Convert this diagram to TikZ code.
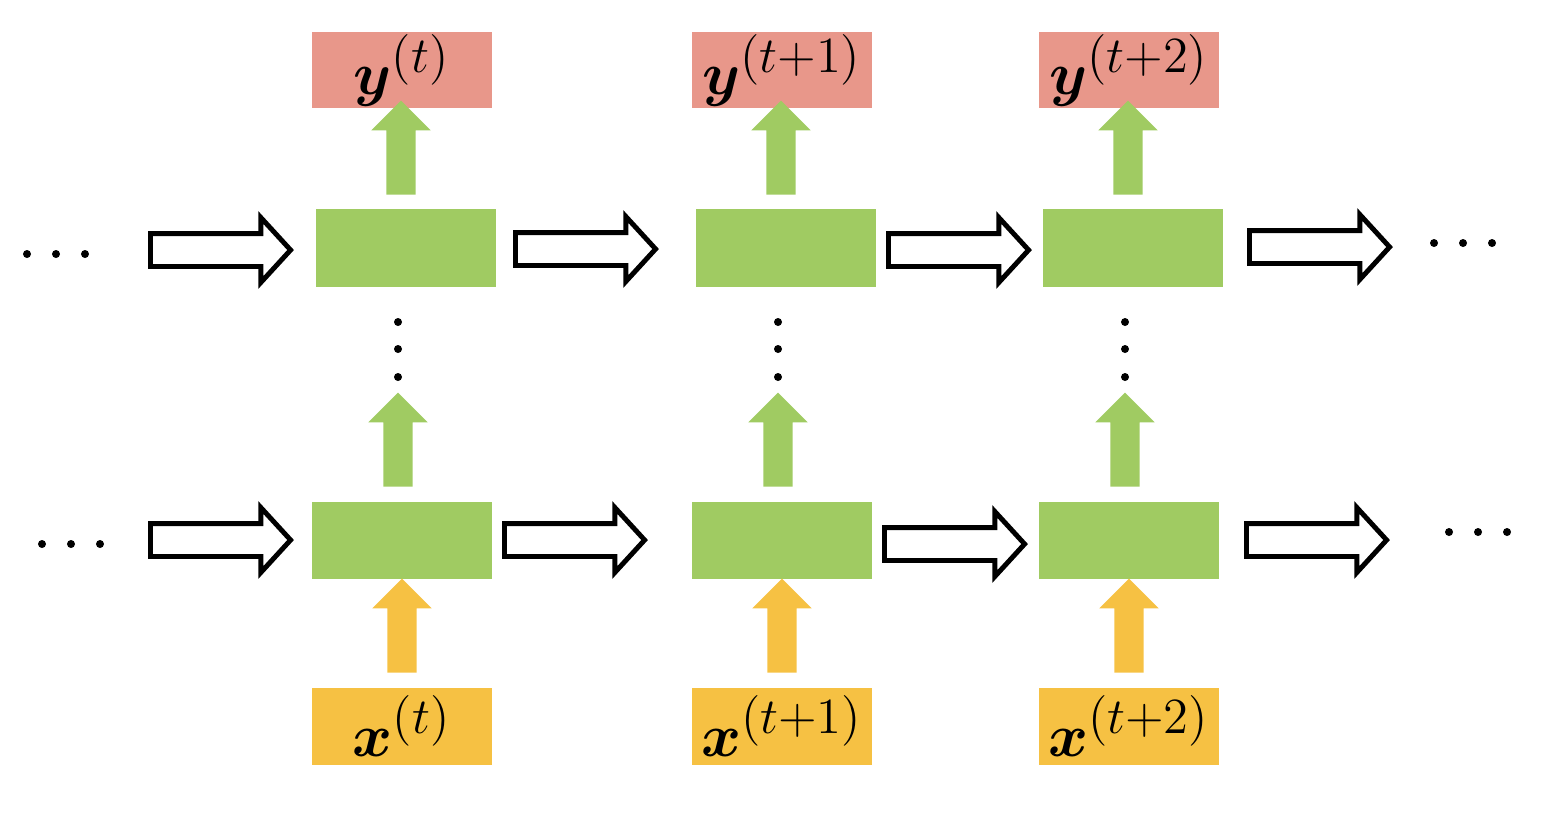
\documentclass[tikz,border=0pt]{standalone}
\usepackage{amsmath,bm}
\usepackage{tikz}
\usetikzlibrary{shapes.arrows}
\definecolor{cellgreen}{HTML}{A0CB62}
\definecolor{outred}{HTML}{E8978A}
\definecolor{inorange}{HTML}{F6C143}
\tikzset{
  cell/.style={fill=cellgreen, minimum width=1.8cm, minimum height=0.77cm, inner sep=0},
  outbox/.style={fill=outred, minimum width=1.8cm, minimum height=0.76cm, inner sep=0, font=\fontsize{19}{24}\selectfont},
  inbox/.style={fill=inorange, minimum width=1.8cm, minimum height=0.77cm, inner sep=0, font=\fontsize{19}{24}\selectfont},
  flow/.style={single arrow, draw=black, line width=1.4pt, fill=white, minimum height=1.4cm, minimum width=0.62cm,
    single arrow head extend=0.16cm, single arrow tip angle=95, single arrow head indent=0, inner sep=0.14cm},
  up/.style={single arrow, rotate=90, draw=none, minimum height=0.94cm, minimum width=0.58cm,
    single arrow head extend=0.15cm, single arrow tip angle=90, single arrow head indent=0, inner sep=0.14cm},
  dot/.style={circle, fill=black, inner sep=0, minimum size=0.08cm}
}
\begin{document}
\begin{tikzpicture}[x=0.01cm,y=-0.01cm]
\useasboundingbox (0,0) rectangle (1552,820);
% cells
\node (c1) [cell] at (406,248) {};
\node (c2) [cell] at (786,248) {};
\node (c3) [cell] at (1133,248) {};
\node (b1) [cell] at (402,540) {};
\node (b2) [cell] at (782,540) {};
\node (b3) [cell] at (1129,540) {};
% outputs and inputs
\node (y1) [outbox] at (402,70) {$\bm{y}^{(t)}$};
\node (y2) [outbox] at (782,70) {$\bm{y}^{(t+1)}$};
\node (y3) [outbox] at (1129,70) {$\bm{y}^{(t+2)}$};
\node (x1) [inbox] at (402,726) {$\bm{x}^{(t)}$};
\node (x2) [inbox] at (782,726) {$\bm{x}^{(t+1)}$};
\node (x3) [inbox] at (1129,726) {$\bm{x}^{(t+2)}$};
% vertical arrows and dots
\foreach \c/\x in {1/401,2/781,3/1128}{
  \node (uo\c) [up, fill=cellgreen] at (\x,155) {};
  \node (um\c) [up, fill=cellgreen] at (\x-3,447) {};
  \node (ui\c) [up, fill=inorange] at (\x+1,633) {};
  \foreach \k/\y in {1/322,2/349,3/377}
    \node (v\c\k) [dot] at (\x-3,\y) {};
}
% horizontal arrows
\node (h1) [flow] at (213,250) {};
\node (h2) [flow] at (578,249) {};
\node (h3) [flow] at (951,250) {};
\node (h4) [flow] at (1312,247) {};
\node (g1) [flow] at (213,540) {};
\node (g2) [flow] at (567,540) {};
\node (g3) [flow] at (947,544) {};
\node (g4) [flow] at (1309,540) {};
% side dots
\foreach \n/\x/\y in {d1/27/254,d2/1434/243,d3/42/544,d4/1449/532}
  \foreach \k in {0,1,2}
    \node (\n\k) [dot] at (\x+\k*29,\y) {};
\end{tikzpicture}
\end{document}
